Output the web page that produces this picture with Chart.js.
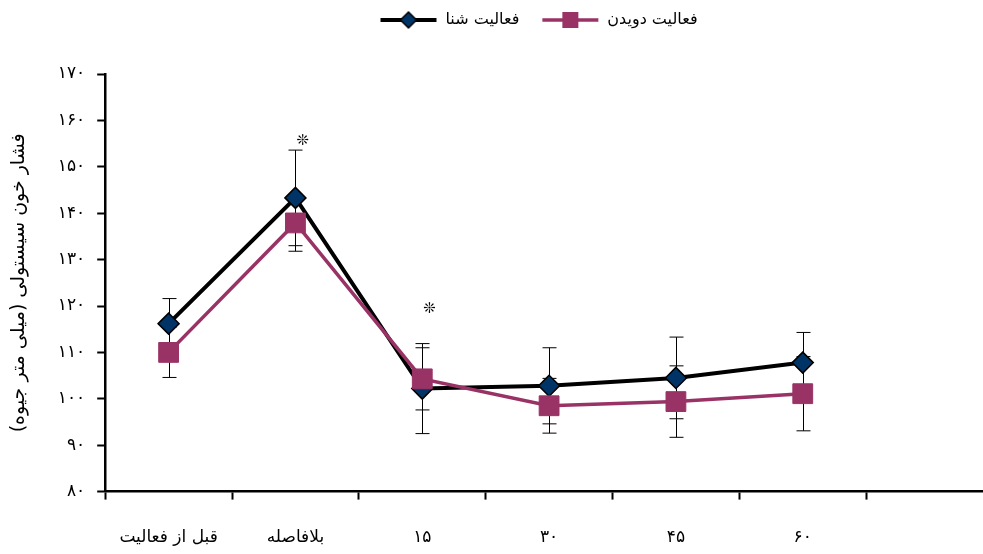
<!DOCTYPE html>
<html>
<head>
<meta charset="utf-8">
<script src="https://cdn.jsdelivr.net/npm/chart.js@4.4.0/dist/chart.umd.min.js"></script>
<style>
  html, body { margin: 0; background: #fff; overflow: hidden; }
  #wrap { width: 983px; height: 554px; overflow: hidden; }
</style>
</head>
<body>
<div id="wrap"><canvas id="grafik" width="993" height="554"></canvas></div>
<script>
// Data grafik tekanan darah sistolik
const waktu = ['قبل از فعالیت', 'بلافاصله', '۱۵', '۳۰', '۴۵', '۶۰', ''];
const shena = [116.2, 143.3, 102.2, 102.8, 104.5, 107.8, null];
const shenaErr = [5.4, 10.3, 9.7, 8.2, 8.8, 6.5, null];
const davidan = [110, 137.9, 104.3, 98.5, 99.4, 101.1, null];
const davidanErr = [5.4, 6.1, 6.7, 5.9, 7.7, 8.0, null];
// posisi tanda bintang (nilai sumbu y)
const bintang = [null, 155.6, 119.3, null, null, null, null];

const angkaFa = '۰۱۲۳۴۵۶۷۸۹';
const keFa = v => String(v).replace(/[0-9]/g, d => angkaFa[d]);

const fontFa = 'DejaVu Sans';

// simbol legenda: garis + penanda
function simbol(warnaGaris, lebarGaris, gaya, isi) {
    const c = document.createElement('canvas');
    c.width = 58; c.height = 20;
    const g = c.getContext('2d');
    g.strokeStyle = warnaGaris;
    g.lineWidth = lebarGaris;
    g.beginPath(); g.moveTo(1, 10); g.lineTo(57, 10); g.stroke();
    g.fillStyle = isi;
    g.beginPath();
    if (gaya === 'diamond') {
        g.moveTo(29, 2); g.lineTo(37, 10); g.lineTo(29, 18); g.lineTo(21, 10); g.closePath();
        g.fill(); g.strokeStyle = '#000'; g.lineWidth = 1.5; g.stroke();
    } else {
        g.rect(21, 2, 16, 16); g.fill();
    }
    return c;
}

const errorBars = {
    id: 'errorBars',
    beforeDatasetsDraw(chart) {
        const ctx = chart.ctx;
        const y = chart.scales.y;
        ctx.save();
        ctx.strokeStyle = '#000';
        ctx.lineWidth = 1;
        chart.data.datasets.forEach((ds, i) => {
            const meta = chart.getDatasetMeta(i);
            ds.errors.forEach((e, j) => {
                if (e == null || ds.data[j] == null) return;
                const px = Math.round(meta.data[j].x) + 0.5;
                const atas = y.getPixelForValue(ds.data[j] + e);
                const bawah = y.getPixelForValue(ds.data[j] - e);
                ctx.beginPath();
                ctx.moveTo(px, atas); ctx.lineTo(px, bawah);
                ctx.moveTo(px - 7, atas); ctx.lineTo(px + 7, atas);
                ctx.moveTo(px - 7, bawah); ctx.lineTo(px + 7, bawah);
                ctx.stroke();
            });
        });
        ctx.restore();
    },
    afterDatasetsDraw(chart) {
        const ctx = chart.ctx;
        const {x, y} = chart.scales;
        ctx.save();
        ctx.fillStyle = '#000';
        ctx.font = 'bold 15px "' + fontFa + '"';
        ctx.textAlign = 'center';
        ctx.textBaseline = 'middle';
        bintang.forEach((v, j) => {
            if (v == null) return;
            ctx.fillText('❊', x.getPixelForValue(j) + 7, y.getPixelForValue(v));
        });
        ctx.restore();
    }
};

// ruang di bawah legenda + geser legenda
const aturLegenda = {
    id: 'aturLegenda',
    beforeInit(chart) {
        const fit = chart.legend.fit;
        chart.legend.fit = function () {
            fit.bind(chart.legend)();
            this.height += 26;
        };
    },
    afterLayout(chart) {
        const lg = chart.legend;
        lg.left += 40;
        lg.right += 40;
        lg.top -= 10;
    }
};

const simbolShena = simbol('#000', 4, 'diamond', '#003366');
const simbolDavidan = simbol('#993366', 3.5, 'square', '#993366');

const config = {
    type: 'line',
    data: {
        labels: waktu,
        datasets: [{
            label: 'فعالیت شنا',
            data: shena,
            errors: shenaErr,
            borderColor: '#000',
            borderWidth: 4,
            pointStyle: 'rectRot',
            pointRadius: 10.5,
            pointBackgroundColor: '#003366',
            pointBorderColor: '#000',
            pointBorderWidth: 1.5,
            tension: 0,
            order: 2
        }, {
            label: 'فعالیت دویدن',
            data: davidan,
            errors: davidanErr,
            borderColor: '#993366',
            borderWidth: 3.5,
            pointStyle: 'rect',
            pointRadius: 14,
            pointBackgroundColor: '#993366',
            pointBorderColor: '#993366',
            pointBorderWidth: 1,
            tension: 0,
            order: 1
        }]
    },
    options: {
        responsive: false,
        animation: false,
        layout: { autoPadding: false, padding: { left: 4, right: 0, top: 0, bottom: -22 } },
        plugins: {
            legend: {
                position: 'top',
                labels: {
                    usePointStyle: true,
                    pointStyleWidth: 58,
                    padding: 22,
                    color: '#000',
                    font: { family: fontFa, size: 16 },
                    generateLabels(chart) {
                        return [
                            { text: 'فعالیت شنا', pointStyle: simbolShena, fillStyle: '#000', strokeStyle: '#000', lineWidth: 0, datasetIndex: 0 },
                            { text: 'فعالیت دویدن', pointStyle: simbolDavidan, fillStyle: '#993366', strokeStyle: '#993366', lineWidth: 0, datasetIndex: 1 }
                        ];
                    }
                }
            },
            tooltip: { enabled: false }
        },
        scales: {
            x: {
                offset: true,
                grid: { offset: true, drawOnChartArea: false, tickLength: 8, tickColor: '#000', tickWidth: 2 },
                border: { color: '#000', width: 2.5 },
                ticks: { color: '#000', padding: 28, maxRotation: 0, autoSkip: false, font: { family: fontFa, size: 17 } }
            },
            y: {
                min: 80,
                max: 170,
                grid: { drawOnChartArea: false, tickLength: 8, tickColor: '#000', tickWidth: 2 },
                border: { color: '#000', width: 2.5 },
                ticks: {
                    stepSize: 10,
                    padding: 12,
                    color: '#000',
                    font: { family: fontFa, size: 17 },
                    callback: v => keFa(v)
                },
                title: {
                    display: true,
                    text: 'فشار خون سیستولی (میلی متر جیوه)\u200F',
                    color: '#000',
                    font: { family: fontFa, size: 19 },
                    padding: { top: 4, bottom: 15 }
                }
            }
        }
    },
    plugins: [errorBars, aturLegenda]
};

var grafik = new Chart(document.getElementById('grafik'), config);
</script>
</body>
</html>
